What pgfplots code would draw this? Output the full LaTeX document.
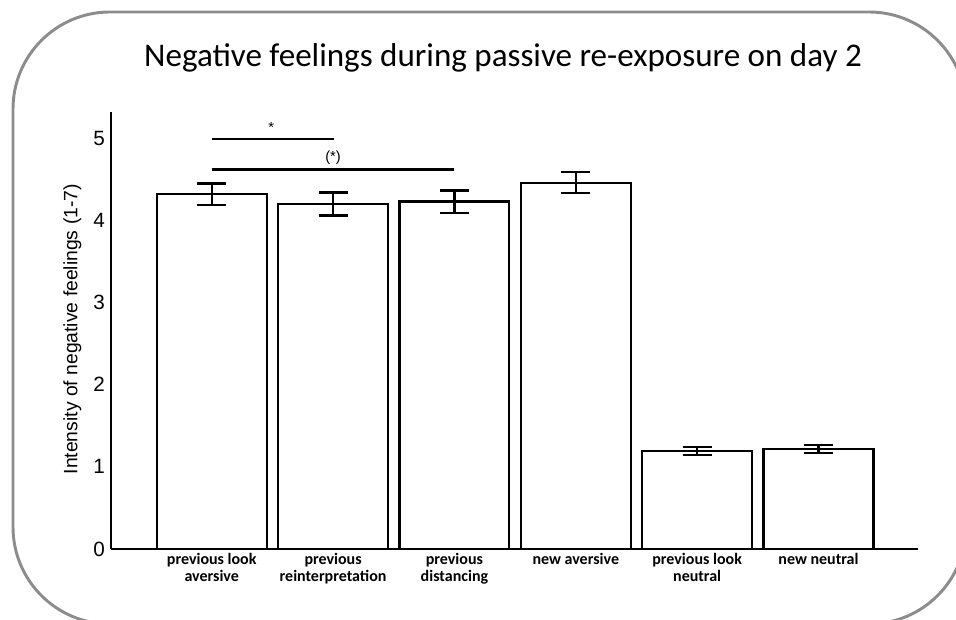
\documentclass[border=0pt]{standalone}
\usepackage{pgfplots}
\pgfplotsset{compat=1.18}
\usepackage{fontspec}
\setmainfont{Liberation Sans}
\newfontfamily\carlito{Carlito}
\begin{document}
\begin{tikzpicture}[x=0.75pt,y=0.75pt]
\path[use as bounding box] (0,0) rectangle (956,620);
\begin{scope}
\clip (0,0) rectangle (956,620);
\draw[color=black!45, line width=2.2pt, rounded corners=72.75pt] (13,-4) rectangle (966,608);
\end{scope}
\node[anchor=base] at (503,553) {\carlito\fontsize{24.8}{30}\selectfont Negative feelings during passive re-exposure on day 2};
\begin{axis}[
  at={(83.25pt,53.25pt)}, anchor=south west,
  scale only axis, width=605.25pt, height=327.75pt,
  xmin=-0.83, xmax=5.82, ymin=0, ymax=5.32,
  axis x line*=bottom, axis y line*=left,
  axis line style={line width=1.6pt},
  major tick length=0pt,
  /pgf/number format/assume math mode=true,
  ytick={0,1,2,3,4,5},
  yticklabel style={font=\fontsize{15.5}{17}\selectfont, xshift=-1pt},
  xtick={0,1,2,3,4,5},
  xticklabels={{previous look\\aversive},{previous\\reinterpretation},{previous\\distancing},{new aversive},{previous look\\neutral},{new neutral}},
  xticklabel style={align=center, font=\carlito\bfseries\fontsize{12}{12.5}\selectfont, anchor=north},
  ylabel={Intensity of negative feelings (1-7)},
  ylabel style={at={(axis description cs:-0.048,0.503)}, anchor=center, rotate=0, font=\fontsize{14.5}{16}\selectfont},
  clip=false,
]
\addplot[ybar, bar width=0.906, fill=white, draw=black, line width=1.6pt,
  error bars/.cd, y dir=both, y explicit,
  error bar style={line width=1.6pt},
  error mark options={rotate=90, line width=1.6pt, mark size=10.9pt}]
  table[x=x, y=y, y error=e] {
x y e
0 4.32 0.13
1 4.20 0.14
2 4.23 0.135
3 4.46 0.13
4 1.19 0.05
5 1.22 0.05
};
\draw[line width=1.6pt] (axis cs:0,4.99) -- (axis cs:1.01,4.99);
\draw[line width=1.6pt] (axis cs:0,4.62) -- (axis cs:2.0,4.62);
\node[anchor=base, font=\fontsize{11}{12}\selectfont] at (axis cs:0.49,5.07) {*};
\node[anchor=base, font=\fontsize{11}{12}\selectfont] at (axis cs:1.0,4.72) {(*)};
\end{axis}
\end{tikzpicture}
\end{document}
